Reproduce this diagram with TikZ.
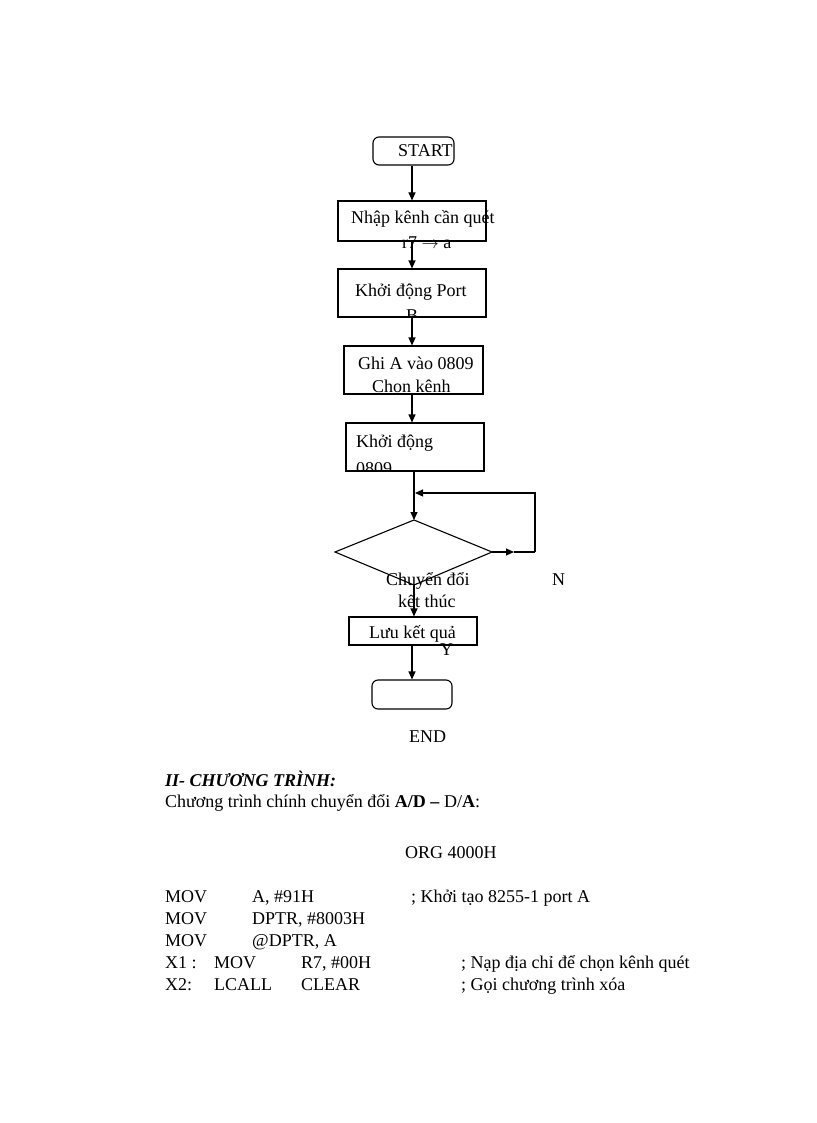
\documentclass[tikz,border=0pt]{standalone}
\usepackage{fontspec}
\setmainfont{Liberation Serif}
\usetikzlibrary{arrows.meta}
\begin{document}
\begin{tikzpicture}[x=1pt,y=-1pt,
  font=\fontsize{18}{22}\selectfont,
  box/.style={draw, line width=1.1pt, inner sep=0pt},
  rbox/.style={box, rounded corners=6pt},
  txt/.style={anchor=base west, inner sep=0pt},
  arr/.style={line width=1.1pt, -{Triangle[length=8pt,width=7pt]}},
  ln/.style={line width=1.1pt}]
\useasboundingbox (0,0) rectangle (816,1123);

% ---------- flowchart boxes ----------
\node[rbox, minimum width=81pt, minimum height=28pt] (start) at (413.5,151) {};
\node[box, minimum width=148pt, minimum height=40pt] (b2) at (412,221) {};
\node[box, minimum width=148pt, minimum height=48pt] (b3) at (412,293) {};
\node[box, minimum width=139pt, minimum height=48pt] (b4) at (413.5,370) {};
\node[box, minimum width=138pt, minimum height=48pt] (b5) at (415,447) {};
\node[box, minimum width=128pt, minimum height=28pt] (b6) at (413,631) {};
\node[rbox, minimum width=80pt, minimum height=29pt] (endb) at (412,694.5) {};

% diamond
\coordinate (dT) at (414,520);
\coordinate (dL) at (335,552);
\coordinate (dR) at (492,552);
\coordinate (dB) at (414,585);
\draw[ln] (dT) -- (dR) -- (dB) -- (dL) -- cycle;

% loop coordinates
\coordinate (nm) at (514,552);
\coordinate (lr) at (535,552);
\coordinate (lt) at (535,493);
\coordinate (lj) at (415,493);

% ---------- texts in boxes ----------
\node[txt] (tstart) at (398,157) {START};
\node[txt] (t2a) at (351,223) {Nhập kênh cần quét};
\node[txt] (t2b) at (402,248) {r7 $\rightarrow$ a};
\begin{scope}
  \clip (b3.north west) rectangle (b3.south east);
  \node[txt] (t3a) at (355,296) {Khởi động Port};
  \node[txt] (t3b) at (406,321) {B};
\end{scope}
\begin{scope}
  \clip (b4.north west) rectangle (b4.south east);
  \node[txt] (t4a) at (358,369) {Ghi A vào 0809};
  \node[txt] (t4b) at (372,392) {Chọn kênh};
\end{scope}
\begin{scope}
  \clip (b5.north west) rectangle (b5.south east);
  \node[txt] (t5a) at (356,447) {Khởi động};
  \node[txt] (t5b) at (356,474) {0809};
\end{scope}
\node[txt] (td1) at (386,585) {Chuyển đổi};
\node[txt] (td2) at (398,607) {kết thúc};
\node[txt] (tN) at (552,585) {N};
\node[txt] (t6) at (369,638) {Lưu kết quả};
\node[txt] (tY) at (440,655) {Y};
\node[txt] (tend) at (409,742) {END};

% ---------- connectors ----------
\draw[arr] (start.south -| b2.north) -- (b2.north);
\draw[arr] (b2.south) -- (b3.north);
\draw[arr] (b3.south) -- (b3.south |- b4.north);
\draw[arr] (b4.south -| b3.south) -- (b3.south |- b5.north);
\draw[arr] (b5.south -| dT) -- (dT);
\draw[arr] (dR) -- (nm);
\draw[ln] (nm) -- (lr);
\draw[arr] (lr) -- (lt) -- (lj);
\draw[arr] (dB) -- (b6.north -| dB);
\draw[arr] (b6.south -| endb.north) -- (endb.north);

% ---------- program text ----------
\node[txt] (h1) at (165,786) {\textbf{\textit{II- CHƯƠNG TRÌNH:}}};
\node[txt] (h2) at (165,807) {Chương trình chính chuyển đổi \textbf{A/D –} D/\textbf{A}:};
\node[txt] (org) at (405,858) {ORG 4000H};

\node[txt] (c1a) at (165,902) {MOV};
\node[txt] (c1b) at (252,902) {A, \#91H};
\node[txt] (c1c) at (411,902) {; Khởi tạo 8255-1 port A};
\node[txt] (c2a) at (165,924) {MOV};
\node[txt] (c2b) at (252,924) {DPTR, \#8003H};
\node[txt] (c3a) at (165,946) {MOV};
\node[txt] (c3b) at (252,946) {@DPTR, A};
\node[txt] (c4a) at (165,968) {X1 :};
\node[txt] (c4b) at (214,968) {MOV};
\node[txt] (c4c) at (301,968) {R7, \#00H};
\node[txt] (c4d) at (461,968) {; Nạp địa chỉ để chọn kênh quét};
\node[txt] (c5a) at (165,990) {X2:};
\node[txt] (c5b) at (214,990) {LCALL};
\node[txt] (c5c) at (301,990) {CLEAR};
\node[txt] (c5d) at (461,990) {; Gọi chương trình xóa};
\end{tikzpicture}
\end{document}
